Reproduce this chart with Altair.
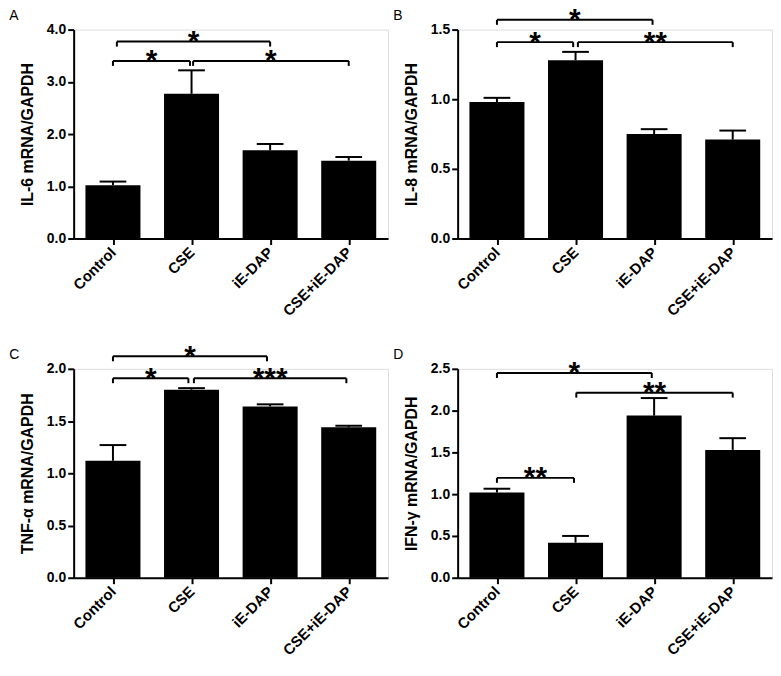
import json
import altair as alt
import pandas as pd

FONT = "Liberation Sans"

categories = ["Control", "CSE", "iE-DAP", "CSE+iE-DAP"]
positions = [0, 1, 2, 3]

# Panel A: IL-6
il6_mean = [1.02, 2.77, 1.69, 1.49]
il6_err = [0.07, 0.45, 0.12, 0.07]
# Panel B: IL-8
il8_mean = [0.98, 1.28, 0.75, 0.71]
il8_err = [0.03, 0.06, 0.035, 0.065]
# Panel C: TNF-a
tnf_mean = [1.12, 1.80, 1.64, 1.44]
tnf_err = [0.15, 0.015, 0.02, 0.015]
# Panel D: IFN-g
ifn_mean = [1.02, 0.42, 1.94, 1.53]
ifn_err = [0.045, 0.08, 0.21, 0.14]

# significance brackets: (start, end, height, label)
il6_brackets = [(0.05, 2.0, 3.77, "*"), (0.0, 0.98, 3.40, "*"), (1.02, 3.0, 3.40, "*")]
il8_brackets = [(0.0, 1.98, 1.57, "*"), (0.0, 0.97, 1.41, "*"), (1.03, 3.0, 1.41, "**")]
tnf_brackets = [(0.0, 1.96, 2.12, "*"), (0.0, 0.96, 1.91, "*"), (1.03, 2.97, 1.91, "***")]
ifn_brackets = [(0.0, 1.97, 2.45, "*"), (1.01, 3.0, 2.215, "**"), (0.0, 0.98, 1.195, "**")]

W, H = 316, 210
label_expr = json.dumps(categories) + "[datum.value]"


def panel(letter, title, means, errs, ymax, ystep, brackets):
    df = pd.DataFrame({"cat": categories, "pos": positions, "mean": means, "err": errs})
    df["top"] = df["mean"] + df["err"]
    df["lo"] = df["pos"] - 0.35
    df["hi"] = df["pos"] + 0.35
    df["clo"] = df["pos"] - 0.17
    df["chi"] = df["pos"] + 0.17

    drop = ymax * 5.0 / H
    bdf = pd.DataFrame(brackets, columns=["x1", "x2", "y", "label"])
    bdf["mid"] = (bdf["x1"] + bdf["x2"]) / 2
    legs = pd.DataFrame(
        [{"x": r.x1, "y": r.y, "ylow": r.y - drop} for r in bdf.itertuples()]
        + [{"x": r.x2, "y": r.y, "ylow": r.y - drop} for r in bdf.itertuples()]
    )

    xscale = alt.Scale(domain=[-0.5, 3.5], nice=False, zero=False)
    yscale = alt.Scale(domain=[0, ymax], nice=False)
    nt = int(round(ymax / ystep))
    yvals = [round(i * ystep, 3) for i in range(nt + 1)]

    xaxis = alt.Axis(
        values=positions, labelExpr=label_expr, title=None, grid=False,
        labelAngle=-45, labelAlign="right", labelBaseline="middle",
        labelFont=FONT, labelFontSize=15, labelFontWeight="bold", labelColor="black",
        labelPadding=5, tickSize=6, tickWidth=2, tickColor="black",
        domainWidth=2, domainColor="black",
    )
    yaxis = alt.Axis(
        values=yvals, format=".1f", title=title, grid=False,
        labelFont=FONT, labelFontSize=14, labelFontWeight="bold", labelColor="black",
        labelPadding=2, tickSize=6, tickWidth=2, tickColor="black",
        domainWidth=2, domainColor="black",
        titleFont=FONT, titleFontSize=16, titleFontWeight="bold", titleColor="black",
        titlePadding=11,
    )

    def X(f):
        return alt.X(f, scale=xscale, axis=xaxis)

    def Y(f):
        return alt.Y(f, scale=yscale, axis=yaxis)

    base = alt.Chart(df)
    bars = base.mark_bar(color="black").encode(
        x=X("lo:Q"), x2="hi:Q", y=Y("mean:Q"), y2=alt.datum(0),
    )
    whisk = base.mark_rule(color="black", strokeWidth=2).encode(
        x=X("pos:Q"), y=Y("mean:Q"), y2="top:Q",
    )
    cap = base.mark_rule(color="black", strokeWidth=2).encode(
        x=X("clo:Q"), x2="chi:Q", y=Y("top:Q"),
    )
    bh = alt.Chart(bdf).mark_rule(color="black", strokeWidth=2).encode(
        x=X("x1:Q"), x2="x2:Q", y=Y("y:Q"),
    )
    bl = alt.Chart(legs).mark_rule(color="black", strokeWidth=2).encode(
        x=X("x:Q"), y=Y("y:Q"), y2="ylow:Q",
    )
    stars = alt.Chart(bdf).mark_text(
        font=FONT, fontSize=30, fontWeight="bold", baseline="alphabetic", dy=9.5, color="black"
    ).encode(x=X("mid:Q"), y=Y("y:Q"), text="label:N")
    let = alt.Chart(pd.DataFrame({"t": [letter]})).mark_text(
        font=FONT, fontSize=14, align="left", baseline="alphabetic", x=-64.7, y=-10, color="black"
    ).encode(text="t:N")

    return alt.layer(bars, whisk, cap, bh, bl, stars, let).properties(width=W, height=H)


pA = panel("A", "IL-6 mRNA/GAPDH", il6_mean, il6_err, 4.0, 1.0, il6_brackets)
pB = panel("B", "IL-8 mRNA/GAPDH", il8_mean, il8_err, 1.5, 0.5, il8_brackets)
pC = panel("C", "TNF-α mRNA/GAPDH", tnf_mean, tnf_err, 2.0, 0.5, tnf_brackets)
pD = panel("D", "IFN-γ  mRNA/GAPDH", ifn_mean, ifn_err, 2.5, 0.5, ifn_brackets)

chart = alt.concat(
    pA, pB, pC, pD, columns=2, spacing={"row": 131, "column": 70}, bounds="flush"
).properties(
    padding={"left": 0, "top": -5, "right": 0, "bottom": 0}
).configure_view(strokeWidth=0, stroke="transparent").configure(font=FONT, background="white")

chart.save("out.html", embed_options={"renderer": "svg", "actions": False})
